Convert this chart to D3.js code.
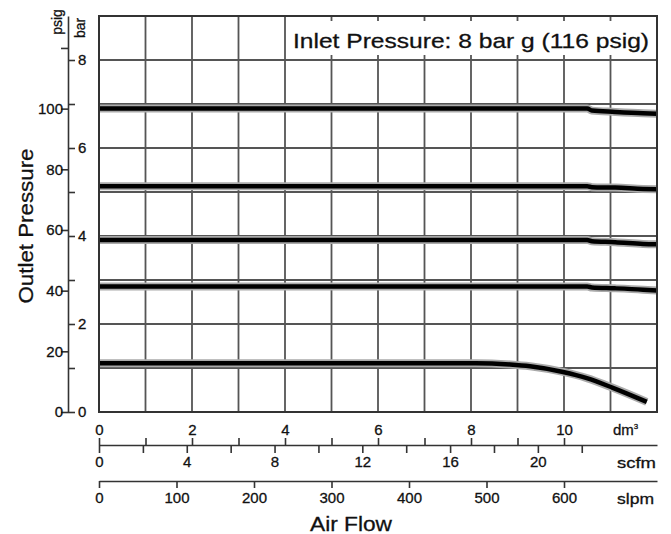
<!DOCTYPE html>
<style>
  body { margin: 0; background: #fff; }
  svg text { font-family: "Liberation Sans", Arial, sans-serif; fill: #111; stroke: #111; stroke-width: 0.3; }
  .axis .domain, .axis line { stroke: #333; stroke-width: 1.6; }
</style>
<svg width="671" height="534"></svg>
<script src="https://d3js.org/d3.v7.min.js"></script>
<script>

  // flow in dm3/s, outlet pressure in bar
  var curve100 = [[0, 6.90], [10.5, 6.90], [10.6, 6.85], [11.1, 6.82], [11.7, 6.79], [12, 6.78]];
  var curve72  = [[0, 5.13], [10.5, 5.13], [10.6, 5.11], [11.1, 5.10], [11.7, 5.07], [12, 5.06]];
  var curve58  = [[0, 3.91], [10.5, 3.91], [10.6, 3.88], [11.1, 3.86], [11.7, 3.82], [12, 3.81]];
  var curve42  = [[0, 2.85], [10.5, 2.85], [10.6, 2.83], [11.1, 2.81], [11.7, 2.78], [12, 2.76]];
  var curve16  = [[0, 1.11], [8.1, 1.11], [8.84, 1.08], [9.27, 1.04], [9.98, 0.91], [10.49, 0.77], [11.05, 0.55], [11.78, 0.23]];
  var curves = [curve100, curve72, curve58, curve42, curve16];

  var dmTicks = [0, 2, 4, 6, 8, 10];
  var scfmLabels = [0, 4, 8, 12, 16, 20];
  var scfmMinor = [0, 2, 4, 6, 8, 10, 12, 14, 16, 18, 20, 22];
  var slpmTicks = [0, 100, 200, 300, 400, 500, 600];
  var psigTicks = [0, 20, 40, 60, 80, 100, 120];
  var barTicks = [0, 1, 2, 3, 4, 5, 6, 7, 8];
  var title = "Inlet Pressure: 8 bar g (116 psig)";

  var svg = d3.select("svg");
  var pLeft = 99, pRight = 657, pTop = 16, pBottom = 412;

  var x = d3.scaleLinear().domain([0, 12]).range([pLeft, pRight]);
  var y = d3.scaleLinear().domain([0, 9]).range([pBottom, pTop]);
  var yPsi = d3.scaleLinear().domain([0, 9 * 14.5038]).range([pBottom, pTop]);
  var xScfm = d3.scaleLinear().domain([0, 12 / 0.4719]).range([pLeft, pRight]);
  var xSlpm = d3.scaleLinear().domain([0, 12 * 60]).range([pLeft, pRight]);

  // grid
  var grid = svg.append("g").attr("stroke", "#555").attr("stroke-width", 1.8);
  grid.selectAll(".v").data(d3.range(0, 13)).enter().append("line")
    .attr("x1", x).attr("x2", x).attr("y1", pTop).attr("y2", pBottom);
  grid.selectAll(".h").data(d3.range(0, 10)).enter().append("line")
    .attr("y1", y).attr("y2", y).attr("x1", pLeft).attr("x2", pRight);

  // title box
  svg.append("rect").attr("x", 288).attr("y", pTop + 5).attr("width", pRight - 288 - 2).attr("height", 34)
    .attr("fill", "#fff");
  svg.append("text").attr("x", 293).attr("y", 48).style("font-size", "21px")
    .attr("textLength", 356).attr("lengthAdjust", "spacingAndGlyphs").text(title);

  // curves
  var line = d3.line().x(function(d) { return x(d[0]); }).y(function(d) { return y(d[1]); })
    .curve(d3.curveMonotoneX);
  svg.selectAll(".halo").data(curves).enter().append("path")
    .attr("d", line).attr("fill", "none").attr("stroke", "#aaa").attr("stroke-width", 8);
  svg.selectAll(".crv").data(curves).enter().append("path")
    .attr("d", line).attr("fill", "none").attr("stroke", "#000").attr("stroke-width", 4.5);

  // left axes
  svg.append("g").attr("class", "axis").attr("transform", "translate(68,0)")
    .call(d3.axisLeft(yPsi).tickValues(psigTicks).tickSize(7).tickSizeOuter(0)
      .tickFormat(function(d) { return d < 120 ? d : ""; }))
    .call(function(g) { g.select(".domain").remove(); })
    .selectAll("text").style("font-size", "15px").attr("x", -5);
  svg.append("g").attr("class", "axis").attr("transform", "translate(68,0)")
    .call(d3.axisRight(y).tickValues(barTicks).tickSize(7).tickSizeOuter(0)
      .tickFormat(function(d) { return d % 2 === 0 ? d : ""; }))
    .selectAll("text").style("font-size", "15px").attr("x", 10);

  svg.append("text").attr("transform", "translate(62,22) rotate(-90)")
    .attr("text-anchor", "middle").style("font-size", "14px").text("psig");
  svg.append("text").attr("transform", "translate(85,28) rotate(-90)")
    .attr("text-anchor", "middle").style("font-size", "14px").text("bar");
  svg.append("text").attr("transform", "translate(33,226) rotate(-90)")
    .attr("text-anchor", "middle").style("font-size", "21px")
    .attr("textLength", 155).attr("lengthAdjust", "spacingAndGlyphs").text("Outlet Pressure");

  // bottom axes
  svg.append("g").attr("class", "axis").attr("transform", "translate(0," + pBottom + ")")
    .call(d3.axisBottom(x).tickValues(dmTicks).tickSize(0).tickPadding(12))
    .call(function(g) { g.select(".domain").remove(); })
    .selectAll("text").style("font-size", "15px");
  svg.append("text").attr("x", 613).attr("y", 435).style("font-size", "15px")
    .text("dm").append("tspan").attr("dy", -6).style("font-size", "8px").text("3");

  svg.append("g").attr("class", "axis").attr("transform", "translate(0,445)")
    .call(d3.axisTop(x).tickValues(d3.range(0, 11)).tickSize(7).tickSizeOuter(0).tickFormat(""));
  svg.append("g").attr("class", "axis").attr("transform", "translate(0,445)")
    .call(d3.axisBottom(xScfm).tickValues(scfmMinor).tickSize(8).tickSizeOuter(0).tickPadding(3)
      .tickFormat(function(d) { return scfmLabels.indexOf(d) >= 0 ? d : ""; }))
    .call(function(g) { g.select(".domain").remove(); })
    .selectAll("text").style("font-size", "15px");
  svg.append("text").attr("x", 617).attr("y", 468).style("font-size", "15px")
    .attr("textLength", 39).attr("lengthAdjust", "spacingAndGlyphs").text("scfm");

  svg.append("g").attr("class", "axis").attr("transform", "translate(0,481)")
    .call(d3.axisBottom(xSlpm).tickValues(slpmTicks).tickSize(7).tickSizeOuter(0).tickPadding(4))
    .selectAll("text").style("font-size", "15px");
  svg.append("text").attr("x", 617).attr("y", 504).style("font-size", "15px")
    .attr("textLength", 37).attr("lengthAdjust", "spacingAndGlyphs").text("slpm");

  svg.append("text").attr("x", 351).attr("y", 531).attr("text-anchor", "middle")
    .style("font-size", "21px").attr("textLength", 82).attr("lengthAdjust", "spacingAndGlyphs")
    .text("Air Flow");

  // plot border
  svg.append("rect").attr("x", pLeft).attr("y", pTop).attr("width", pRight - pLeft).attr("height", pBottom - pTop)
    .attr("fill", "none").attr("stroke", "#333").attr("stroke-width", 2);

</script>
